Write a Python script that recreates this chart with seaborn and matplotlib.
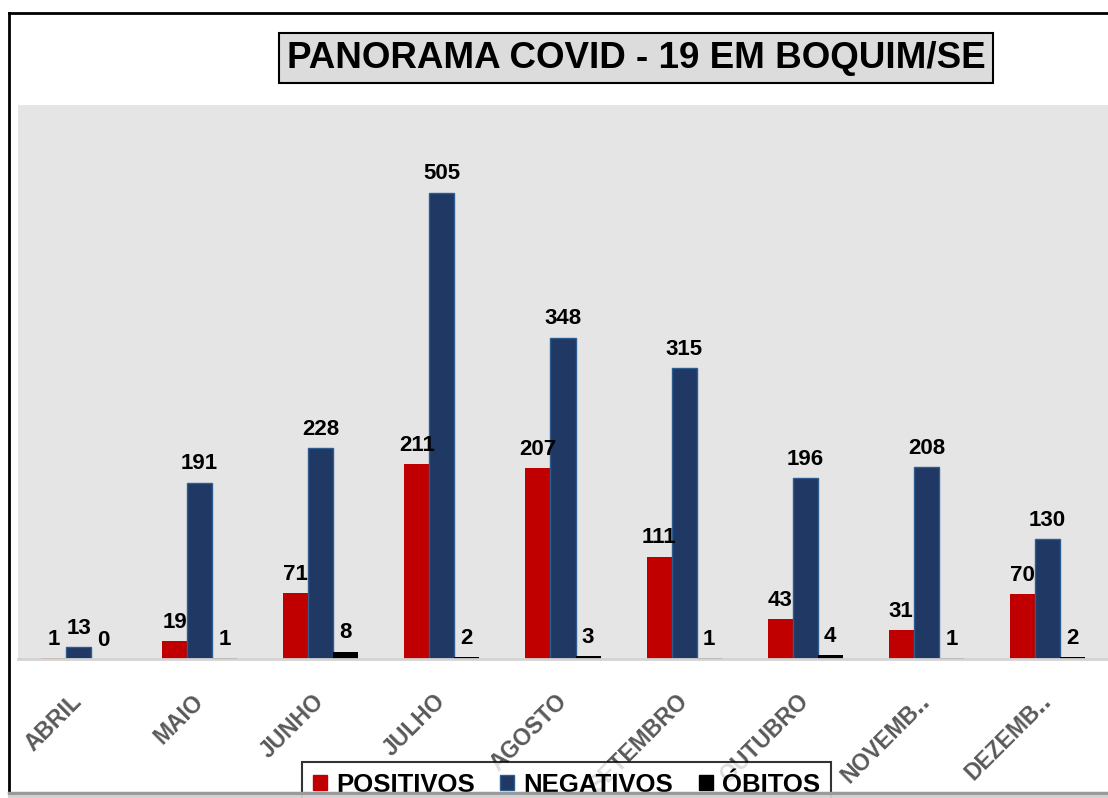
import matplotlib
matplotlib.use("Agg")
import matplotlib.pyplot as plt
import seaborn as sns
import pandas as pd
from matplotlib.patches import Patch
from matplotlib.lines import Line2D

# ---- data ----
months = ["ABRIL", "MAIO", "JUNHO", "JULHO", "AGOSTO", "SETEMBRO", "OUTUBRO", "NOVEMBRO", "DEZEMBRO"]
tick_labels = ["ABRIL", "MAIO", "JUNHO", "JULHO", "AGOSTO", "SETEMBRO", "OUTUBRO", "NOVEMB\u2025", "DEZEMB\u2025"]
series = ["POSITIVOS", "NEGATIVOS", "ÓBITOS"]
positivos = [1, 19, 71, 211, 207, 111, 43, 31, 70]
negativos = [13, 191, 228, 505, 348, 315, 196, 208, 130]
obitos = [0, 1, 8, 2, 3, 1, 4, 1, 2]
colors = ["#c00000", "#1f3864", "#000000"]
title = "PANORAMA COVID - 19 EM BOQUIM/SE"

rows = []
for name, vals in zip(series, [positivos, negativos, obitos]):
    for m, v in zip(months, vals):
        rows.append({"mes": m, "serie": name, "valor": v})
df = pd.DataFrame(rows)

plt.rcParams["font.family"] = ["Liberation Sans", "DejaVu Sans"]
plt.rcParams["font.weight"] = "bold"

W, H = 1108, 798
fig = plt.figure(figsize=(W / 100, H / 100), dpi=100)
fig.patch.set_facecolor("white")
ax = fig.add_axes([18 / W, 1 - 659 / H, 1 - 18 / W, (659 - 105) / H])
ax.set_facecolor("#e5e5e5")

sns.barplot(data=df, x="mes", y="valor", hue="serie", order=months, hue_order=series,
            palette=colors, width=0.62, gap=0, saturation=1, legend=False, ax=ax)

for i, cont in enumerate(ax.containers):
    for bar in cont:
        if i == 1:
            bar.set_edgecolor("#2e5c8e")
            bar.set_linewidth(1.0)
        else:
            bar.set_linewidth(0)
    ax.bar_label(cont, labels=[str(v) for v in [positivos, negativos, obitos][i]],
                 padding=6, fontsize=16, fontweight="bold", color="black")

ax.set_ylim(0, 600)
ax.set_xlim(-0.5, len(months) - 0.5)
ax.set_xlabel("")
ax.set_ylabel("")
ax.set_yticks([])
ax.set_xticks(range(len(months)))
ax.set_xticklabels(tick_labels, rotation=45, ha="right", va="center", rotation_mode="anchor",
                   fontsize=16.5, fontweight="bold", color="#595959")
ax.tick_params(axis="x", length=0, pad=28)
for s in ["top", "left", "right"]:
    ax.spines[s].set_visible(False)
ax.spines["bottom"].set_color("#d4d4d4")
ax.spines["bottom"].set_linewidth(2)

# title
fig.text(636 / W, 1 - 58 / H, title, ha="center", va="center", fontsize=26.5, fontweight="bold",
         color="black",
         bbox=dict(boxstyle="square,pad=0.2", fc="#dcdcdc", ec="black", lw=1.5))

# legend
handles = [Patch(facecolor=colors[0], edgecolor=colors[0]),
           Patch(facecolor=colors[1], edgecolor="#2e5c8e"),
           Patch(facecolor=colors[2], edgecolor=colors[2])]
leg = fig.legend(handles, series, loc="upper left", bbox_to_anchor=(302 / W, 1 - 762 / H),
                 ncol=3, fontsize=18.5, frameon=True, fancybox=False, edgecolor="black",
                 handlelength=0.55, handleheight=0.55, handletextpad=0.35, columnspacing=1.0,
                 borderpad=0.42, borderaxespad=0)
leg.get_frame().set_linewidth(1.5)
for t in leg.get_texts():
    t.set_fontweight("bold")

# outer frame
fig.add_artist(Line2D([9 / W, 1], [1 - 13 / H, 1 - 13 / H], color="black", lw=2))
fig.add_artist(Line2D([9 / W, 9 / W], [1 - 13 / H, 1 - 791 / H], color="black", lw=2))
fig.add_artist(Line2D([9 / W, 1], [1 - 793 / H, 1 - 793 / H], color="#9a9a9a", lw=2.5, zorder=10))
fig.add_artist(Line2D([9 / W, 1], [1 - 796 / H, 1 - 796 / H], color="#cfcfcf", lw=2, zorder=10))

fig.savefig("out.png", dpi=100)
